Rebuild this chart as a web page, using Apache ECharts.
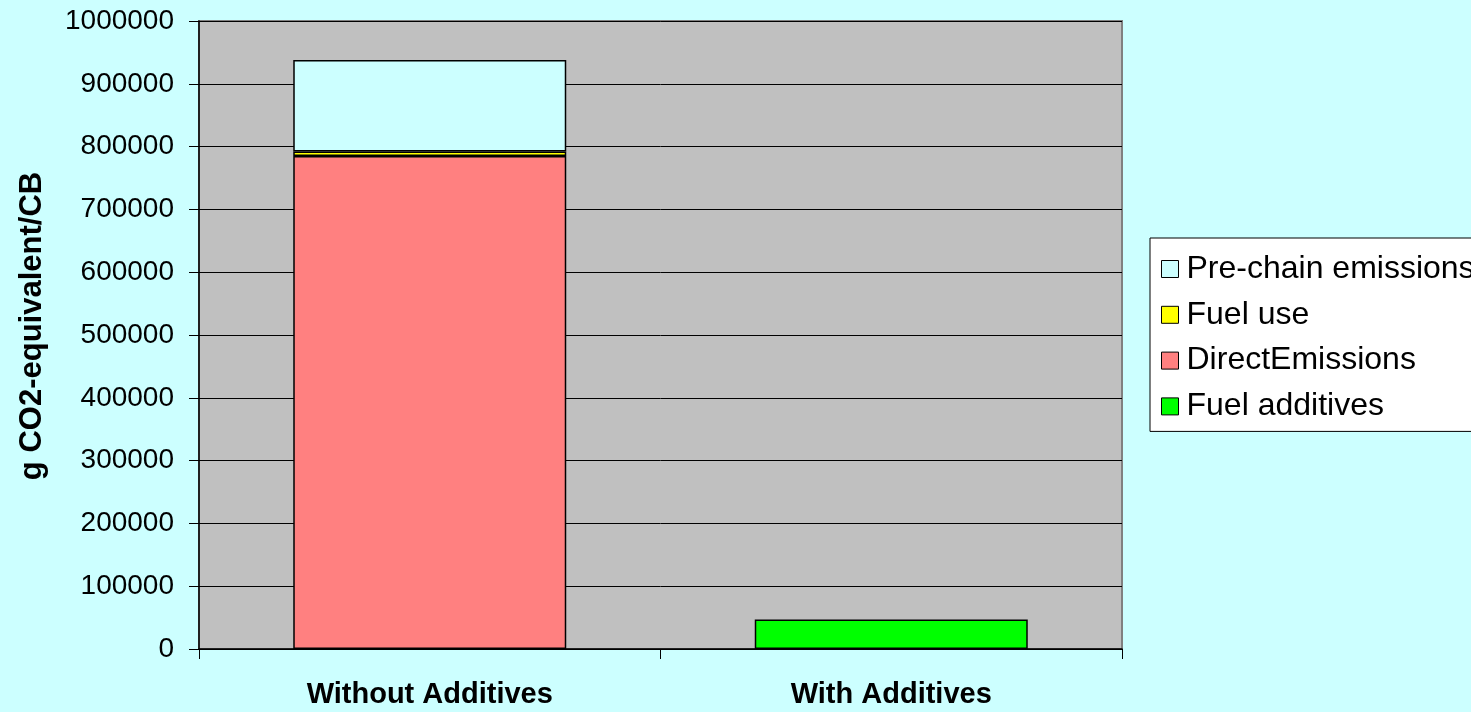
<!DOCTYPE html>
<html>
<head>
<meta charset="utf-8">
<script src="https://cdn.jsdelivr.net/npm/echarts@6/dist/echarts.min.js"></script>
<style>
html,body{margin:0;padding:0;background:#CCFFFF;}
#c{width:1471px;height:712px;}
</style>
</head>
<body>
<div id="c"></div>
<script>
const categories = ['Without Additives', 'With Additives'];
const fuelAdditives = [null, 47000];
const directEmissions = [785000, null];
const fuelUse = [7000, null];
const preChain = [146000, null];
const yTicks = { min: 0, max: 1000000, interval: 100000 };
const legendOrder = ['Pre-chain emissions', 'Fuel use', 'DirectEmissions', 'Fuel additives'];

const FONT = '"Liberation Sans", Arial, sans-serif';
const chart = echarts.init(document.getElementById('c'));

function mk(name, data, color) {
  return {
    name: name, type: 'bar', stack: 'total', data: data,
    barWidth: 273,
    itemStyle: { color: color, borderColor: '#000', borderWidth: 1.5 },
    emphasis: { disabled: true }
  };
}

chart.setOption({
  backgroundColor: '#CCFFFF',
  animation: false,
  textStyle: { fontFamily: FONT, color: '#000' },
  grid: {
    left: 199, top: 21, width: 923, height: 628,
    show: true, backgroundColor: '#C0C0C0', borderColor: '#808080', borderWidth: 2
  },
  legend: {
    data: legendOrder,
    orient: 'vertical',
    left: 1150, top: 238,
    backgroundColor: '#FFFFFF',
    borderColor: '#000', borderWidth: 1,
    padding: [15, 30, 9, 11],
    itemWidth: 17, itemHeight: 17, itemGap: 13.8,
    icon: 'rect',
    itemStyle: { borderColor: '#000', borderWidth: 1 },
    textStyle: { fontFamily: FONT, fontSize: 32, color: '#000', padding: [0, 0, 0, 3] },
    selectedMode: false
  },
  xAxis: {
    type: 'category',
    data: categories,
    axisLine: { lineStyle: { color: '#000', width: 1.5 } },
    axisTick: { show: true, alignWithLabel: false, length: 10, lineStyle: { color: '#000' } },
    axisLabel: { fontFamily: FONT, fontSize: 29, fontWeight: 'bold', color: '#000', margin: 31 },
    splitLine: { show: false }
  },
  yAxis: {
    type: 'value',
    min: yTicks.min, max: yTicks.max, interval: yTicks.interval,
    name: 'g CO2-equivalent/CB',
    nameLocation: 'middle',
    nameGap: 151,
    nameRotate: 90,
    nameTextStyle: { fontFamily: FONT, fontSize: 31, fontWeight: 'bold', color: '#000', padding: [0, 0, 0, 18] },
    axisLine: { show: true, lineStyle: { color: '#000', width: 1.5 } },
    axisTick: { show: true, inside: false, length: 10, lineStyle: { color: '#000' } },
    axisLabel: { fontFamily: FONT, fontSize: 28, color: '#000', margin: 25, formatter: function (v) { return String(v); } },
    splitLine: { show: true, lineStyle: { color: '#000', width: 1 } }
  },
  series: [
    mk('Fuel additives', fuelAdditives, '#00FF00'),
    mk('DirectEmissions', directEmissions, '#FF8080'),
    mk('Fuel use', fuelUse, '#FFFF00'),
    mk('Pre-chain emissions', preChain, '#CCFFFF')
  ]
});
</script>
</body>
</html>
